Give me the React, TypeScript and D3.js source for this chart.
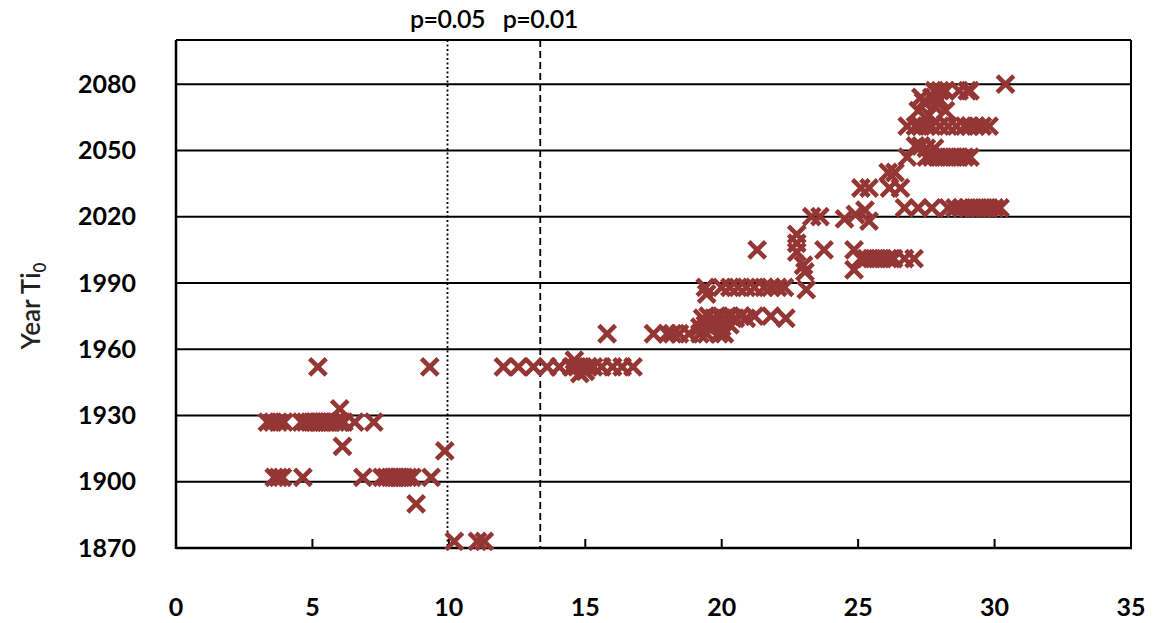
import React from "react";
import * as d3 from "d3";

// Threshold lines (significance levels)
const thresholds = [
  { label: "p=0.05", value: 9.95, dash: "2,2.5" },
  { label: "p=0.01", value: 13.35, dash: "7,4" },
];

const xTicks = [0, 5, 10, 15, 20, 25, 30, 35];
const yTicks = [1870, 1900, 1930, 1960, 1990, 2020, 2050, 2080];

// [value, year] observations
const earlyObs: [number, number][] = [
  [3.35, 1927], [3.55, 1927], [3.75, 1927], [3.95, 1927],
  [4.6, 1927], [4.75, 1927], [4.9, 1927], [5.0, 1927], [5.1, 1927], [5.2, 1927],
  [5.3, 1927], [5.4, 1927], [5.5, 1927], [5.6, 1927], [5.7, 1927], [5.85, 1927],
  [6.0, 1927], [6.15, 1927], [6.55, 1927], [7.25, 1927],
  [6.0, 1933], [6.1, 1916], [5.2, 1952], [9.3, 1952], [9.85, 1914],
  [3.6, 1902], [3.75, 1902], [3.9, 1902], [4.65, 1902], [6.85, 1902],
  [7.55, 1902], [7.7, 1902], [7.85, 1902], [7.95, 1902], [8.05, 1902], [8.15, 1902],
  [8.25, 1902], [8.35, 1902], [8.5, 1902], [8.65, 1902], [9.35, 1902],
  [8.8, 1890],
  [10.2, 1873], [11.05, 1873], [11.3, 1873],
];

const midObs: [number, number][] = [
  [12.0, 1952], [12.55, 1952], [13.1, 1952], [13.6, 1952], [14.05, 1952],
  [14.5, 1952], [14.6, 1955], [14.7, 1952], [14.8, 1949], [14.9, 1952], [15.0, 1950],
  [15.1, 1952], [15.3, 1952], [15.6, 1952], [16.0, 1952], [16.35, 1952], [16.75, 1952],
  [15.8, 1967],
  [17.5, 1967], [18.0, 1967], [18.2, 1967], [18.45, 1967], [18.8, 1967],
  [19.2, 1967], [19.45, 1967], [19.9, 1967], [20.1, 1967],
  [19.2, 1970], [19.4, 1971], [19.6, 1970], [19.8, 1972], [20.0, 1970], [20.3, 1971],
  [19.3, 1974], [19.5, 1975], [19.7, 1974], [19.9, 1975], [20.1, 1974], [20.3, 1975],
  [20.5, 1974], [20.7, 1975], [20.9, 1974], [21.2, 1975], [21.8, 1975], [22.35, 1974],
  [19.45, 1985],
  [19.4, 1988], [20.0, 1988], [20.3, 1988], [20.6, 1988], [20.9, 1988], [21.2, 1988],
  [21.55, 1988], [21.8, 1988], [22.05, 1988], [22.3, 1988],
  [21.3, 2005],
  [22.75, 2012], [22.75, 2008], [22.75, 2004], [23.0, 1998], [23.05, 1995], [23.1, 1987],
  [23.3, 2020], [23.6, 2020], [23.75, 2005],
];

const lateObs: [number, number][] = [
  [24.85, 2005], [24.85, 1996],
  [25.1, 2001], [25.3, 2001], [25.5, 2001], [25.7, 2001], [25.9, 2001],
  [26.1, 2001], [26.3, 2001], [26.7, 2001], [27.05, 2001],
  [24.5, 2019], [24.9, 2021], [25.25, 2023], [25.4, 2018],
  [25.1, 2033], [25.4, 2033], [26.15, 2033], [26.55, 2033],
  [26.1, 2040], [26.35, 2040],
  [26.8, 2047], [26.8, 2061],
  [26.7, 2024], [27.2, 2024], [27.7, 2024], [28.3, 2024], [28.55, 2024], [28.8, 2024],
  [29.0, 2024], [29.2, 2024], [29.4, 2024], [29.6, 2024], [29.8, 2024], [30.0, 2024], [30.2, 2024],
  [27.5, 2047], [27.7, 2047], [27.9, 2047], [28.1, 2047], [28.3, 2047], [28.5, 2047],
  [28.7, 2047], [28.9, 2047], [29.1, 2047],
  [27.1, 2052], [27.3, 2052], [27.5, 2051], [27.8, 2051],
  [27.1, 2061], [27.3, 2061], [27.5, 2061], [27.7, 2061], [28.0, 2061], [28.3, 2061],
  [28.6, 2061], [28.9, 2061], [29.1, 2061], [29.3, 2061], [29.55, 2061], [29.8, 2061],
  [27.2, 2068], [27.4, 2072], [27.6, 2066], [27.8, 2070], [28.0, 2073], [28.2, 2068],
  [27.3, 2074], [27.7, 2074],
  [27.8, 2077], [28.0, 2077], [28.2, 2077], [28.7, 2077], [29.0, 2077], [29.1, 2077],
  [30.4, 2080],
];

const allObs = [...earlyObs, ...midObs, ...lateObs];

const W = 1163;
const H = 623;
const left = 176;
const right = 1131;
const top = 40;
const bottom = 548;

const x = d3.scaleLinear().domain([0, 35]).range([left, right]);
const y = d3.scaleLinear().domain([1870, 2100]).range([bottom, top]);

const markerColor = "#943634";
const tickFont = "Lato, 'Open Sans', sans-serif";

export default function App() {
  const s = 8.3;
  return (
    <svg
      width={W}
      height={H}
      style={{ position: "absolute", left: 0, top: 0, background: "#fff" }}
    >
      {/* horizontal gridlines */}
      {yTicks.slice(1).map((t) => (
        <line key={t} x1={left} x2={right} y1={y(t)} y2={y(t)} stroke="#000" strokeWidth={2} />
      ))}
      {/* plot frame */}
      <line x1={left} x2={right} y1={top} y2={top} stroke="#000" strokeWidth={2} />
      <line x1={right} x2={right} y1={top} y2={bottom} stroke="#000" strokeWidth={2} />
      <line x1={left} x2={left} y1={top} y2={bottom + 1} stroke="#000" strokeWidth={2.5} />
      <line x1={left} x2={right + 1} y1={bottom} y2={bottom} stroke="#000" strokeWidth={2.5} />
      {/* x ticks inside */}
      {xTicks.slice(1, -1).map((t) => (
        <line key={t} x1={x(t)} x2={x(t)} y1={bottom} y2={bottom - 9} stroke="#000" strokeWidth={2} />
      ))}
      {/* threshold lines */}
      {thresholds.map((th) => (
        <g key={th.label}>
          <line
            x1={x(th.value)}
            x2={x(th.value)}
            y1={top}
            y2={bottom}
            stroke="#000"
            strokeWidth={1.8}
            strokeDasharray={th.dash}
          />
          <text
            x={x(th.value)}
            y={28}
            textAnchor="middle"
            fontFamily={tickFont}
            fontSize={25}
            fontWeight={600}
            letterSpacing={-0.5}
            fill="#000"
          >
            {th.label}
          </text>
        </g>
      ))}
      {/* markers */}
      {allObs.map(([v, yr], i) => (
        <path
          key={i}
          transform={`translate(${x(v)},${y(yr)})`}
          d={`M${-s},${-s}L${s},${s}M${s},${-s}L${-s},${s}`}
          stroke={markerColor}
          strokeWidth={4.6}
          fill="none"
        />
      ))}
      {/* y tick labels */}
      {yTicks.map((t) => (
        <text
          key={t}
          x={136}
          y={y(t)}
          dy="0.35em"
          textAnchor="end"
          fontFamily={tickFont}
          fontWeight={700}
          fontSize={25}
          fill="#000"
        >
          {t}
        </text>
      ))}
      {/* x tick labels */}
      {xTicks.map((t) => (
        <text
          key={t}
          x={x(t)}
          y={607}
          dy="0.35em"
          textAnchor="middle"
          fontFamily={tickFont}
          fontWeight={700}
          fontSize={25}
          fill="#000"
        >
          {t}
        </text>
      ))}
      {/* y axis title */}
      <text
        transform="translate(40,306) rotate(-90)"
        textAnchor="middle"
        fontFamily={tickFont}
        fontSize={26}
        fontWeight={600}
        fill="#222"
      >
        Year Ti
        <tspan fontSize={17} dy={6}>0</tspan>
      </text>
    </svg>
  );
}
